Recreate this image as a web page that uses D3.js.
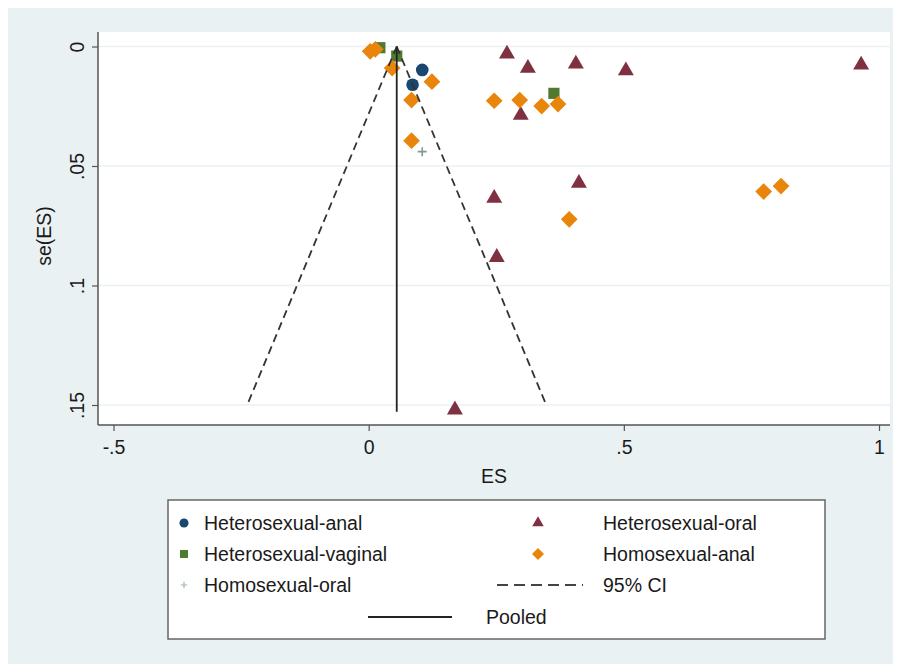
<!DOCTYPE html>
<html>
<head>
<meta charset="utf-8">
<script src="https://cdn.jsdelivr.net/npm/d3@7"></script>
<style>
  body { margin: 0; background: #fff; }
  svg { display: block; font-family: "Liberation Sans", Arial, sans-serif; }
</style>
</head>
<body>
<script>
// effect size (ES) and its standard error
let heteroAnal = [
    {es: 0.105, se: 0.0098}, {es: 0.086, se: 0.0160}
];
let heteroOral = [
    {es: 0.271, se: 0.0031}, {es: 0.312, se: 0.0091}, {es: 0.406, se: 0.0073},
    {es: 0.504, se: 0.0101}, {es: 0.965, se: 0.0077}, {es: 0.298, se: 0.0287},
    {es: 0.412, se: 0.0572}, {es: 0.246, se: 0.0635}, {es: 0.251, se: 0.0882},
    {es: 0.169, se: 0.1520}
];
let heteroVaginal = [
    {es: 0.022, se: 0.0005}, {es: 0.055, se: 0.0040}, {es: 0.363, se: 0.0196}
];
let homoAnal = [
    {es: 0.003, se: 0.0020}, {es: 0.013, se: 0.0012}, {es: 0.046, se: 0.0090},
    {es: 0.124, se: 0.0147}, {es: 0.084, se: 0.0224}, {es: 0.084, se: 0.0394},
    {es: 0.246, se: 0.0227}, {es: 0.296, se: 0.0224}, {es: 0.339, se: 0.0249},
    {es: 0.371, se: 0.0241}, {es: 0.774, se: 0.0607}, {es: 0.808, se: 0.0584},
    {es: 0.393, se: 0.0723}
];
let homoOral = [
    {es: 0.105, se: 0.0440}
];

// pooled estimate and 95% CI limits
let pooledLine = [{es: 0.055, se: 0}, {es: 0.055, se: 0.1528}];
let ciLower = [{es: 0.055, se: 0}, {es: -0.239, se: 0.1505}];
let ciUpper = [{es: 0.055, se: 0}, {es: 0.349, se: 0.1505}];

let xTicks = [-0.5, 0, 0.5, 1],
    xTickLabels = ['-.5', '0', '.5', '1'];
let yTicks = [0, 0.05, 0.1, 0.15],
    yTickLabels = ['0', '.05', '.1', '.15'];

let legendLabels = ['Heterosexual-anal', 'Heterosexual-oral', 'Heterosexual-vaginal',
    'Homosexual-anal', 'Homosexual-oral', '95% CI', 'Pooled'];

let width = 903, height = 664;
let plot = {left: 98, top: 32, right: 890, bottom: 425};

let svg = d3.select('body').append('svg')
    .attr('width', width)
    .attr('height', height);

// graph region
svg.append('rect')
    .attr('x', 8).attr('y', 8)
    .attr('width', 885).attr('height', height - 8)
    .attr('fill', '#eaf1f3');
svg.append('rect')
    .attr('x', plot.left).attr('y', plot.top)
    .attr('width', plot.right - plot.left).attr('height', plot.bottom - plot.top)
    .attr('fill', '#fff');

let xScale = d3.scaleLinear().domain([-0.5, 1]).range([113.5, 879]);
let yScale = d3.scaleLinear().domain([0, 0.15]).range([46.5, 405]);

// grid
svg.append('g').selectAll('line')
    .data(yTicks)
    .join('line')
    .attr('x1', plot.left).attr('x2', plot.right)
    .attr('y1', d => yScale(d)).attr('y2', d => yScale(d))
    .attr('stroke', '#eaf2f3')
    .attr('stroke-width', 1.5);

// axes
let fmtX = d => xTickLabels[xTicks.indexOf(d)],
    fmtY = d => yTickLabels[yTicks.indexOf(d)];

let xAxis = svg.append('g')
    .attr('transform', `translate(0,${plot.bottom})`)
    .call(d3.axisBottom(xScale).tickValues(xTicks).tickFormat(fmtX).tickSize(6).tickSizeOuter(0));
let yAxis = svg.append('g')
    .attr('transform', `translate(${plot.left},0)`)
    .call(d3.axisLeft(yScale).tickValues(yTicks).tickFormat(fmtY).tickSize(6).tickSizeOuter(0));

[xAxis, yAxis].forEach(a => {
    a.select('.domain').remove();
    a.selectAll('.tick line').attr('stroke', '#555').attr('stroke-width', 1.2);
    a.selectAll('.tick text').attr('fill', '#1a1a1a').style('font-size', '19.5px')
        .style('font-family', '"Liberation Sans", Arial, sans-serif');
});
xAxis.selectAll('.tick text').attr('y', 15);
yAxis.selectAll('.tick text')
    .attr('x', null).attr('dy', null)
    .attr('text-anchor', 'middle')
    .attr('transform', 'translate(-21,0) rotate(-90)')
    .attr('dy', '0.35em');

svg.append('line')
    .attr('x1', plot.left).attr('x2', plot.right)
    .attr('y1', plot.bottom).attr('y2', plot.bottom)
    .attr('stroke', '#555').attr('stroke-width', 1.5);
svg.append('line')
    .attr('x1', plot.left).attr('x2', plot.left)
    .attr('y1', plot.top).attr('y2', plot.bottom)
    .attr('stroke', '#555').attr('stroke-width', 1.5);

svg.append('text')
    .attr('x', (plot.left + plot.right) / 2).attr('y', 483)
    .attr('text-anchor', 'middle')
    .style('font-size', '19.5px').attr('fill', '#1a1a1a')
    .text('ES');
svg.append('text')
    .attr('transform', 'translate(51,236) rotate(-90)')
    .attr('text-anchor', 'middle')
    .style('font-size', '19.5px').attr('fill', '#1a1a1a')
    .text('se(ES)');

// markers
let sym = {
    circle: d3.symbol().type(d3.symbolCircle).size(125),
    triangle: d3.symbol().type(d3.symbolTriangle).size(110),
    square: d3.symbol().type(d3.symbolSquare).size(125),
    diamond: d3.symbol().type(d3.symbolSquare).size(140),
};
let plusPath = 'M-4.5,0H4.5M0,-4.5V4.5';

let series = [
    {data: heteroAnal, shape: 'circle', color: '#1a476f'},
    {data: heteroOral, shape: 'triangle', color: '#7f3041'},
    {data: heteroVaginal, shape: 'square', color: '#4f7a2f'},
    {data: homoAnal, shape: 'diamond', color: '#e8850a'},
    {data: homoOral, shape: 'plus', color: '#7e9b92'},
];

function drawMarker(g, shape, color){
    if(shape === 'plus'){
        g.append('path').attr('d', plusPath).attr('stroke', color).attr('stroke-width', 1.6).attr('fill', 'none');
    } else {
        g.append('path').attr('d', sym[shape]())
            .attr('fill', color)
            .attr('transform', shape === 'diamond' ? 'rotate(45)' : null);
    }
}

series.forEach(s => {
    s.data.forEach(d => {
        let g = svg.append('g').attr('transform', `translate(${xScale(d.es)},${yScale(d.se)})`);
        drawMarker(g, s.shape, s.color);
    });
});

// funnel lines
let line = d3.line().x(d => xScale(d.es)).y(d => yScale(d.se));
[ciLower, ciUpper].forEach(l => {
    svg.append('path').attr('d', line(l))
        .attr('fill', 'none').attr('stroke', '#333').attr('stroke-width', 1.8)
        .attr('stroke-dasharray', '8,5');
});
svg.append('path').attr('d', line(pooledLine))
    .attr('fill', 'none').attr('stroke', '#222').attr('stroke-width', 1.8);

// legend
let legend = svg.append('g');
legend.append('rect')
    .attr('x', 168).attr('y', 500).attr('width', 657).attr('height', 139)
    .attr('fill', '#fff').attr('stroke', '#666').attr('stroke-width', 1.5);

let rowY = [523, 554, 585, 617];
let items = [
    {label: legendLabels[0], shape: 'circle', color: '#1a476f', col: 0, row: 0},
    {label: legendLabels[1], shape: 'triangle', color: '#7f3041', col: 1, row: 0},
    {label: legendLabels[2], shape: 'square', color: '#4f7a2f', col: 0, row: 1},
    {label: legendLabels[3], shape: 'diamond', color: '#e8850a', col: 1, row: 1},
    {label: legendLabels[4], shape: 'plus', color: '#9fb3ad', col: 0, row: 2},
    {label: legendLabels[5], shape: 'dash', color: '#444', col: 1, row: 2},
];
let symX = [184, 538], textX = [204, 603];

items.forEach(it => {
    let y = rowY[it.row];
    if(it.shape === 'dash'){
        legend.append('line')
            .attr('x1', 497).attr('x2', 583).attr('y1', y).attr('y2', y)
            .attr('stroke', it.color).attr('stroke-width', 1.8).attr('stroke-dasharray', '11,6');
    } else {
        let g = legend.append('g').attr('transform', `translate(${symX[it.col]},${y}) scale(0.72)`);
        drawMarker(g, it.shape, it.color);
    }
    legend.append('text')
        .attr('x', textX[it.col]).attr('y', y).attr('dy', '0.35em')
        .style('font-size', '19.5px').attr('fill', '#1a1a1a')
        .text(it.label);
});
legend.append('line')
    .attr('x1', 368).attr('x2', 452).attr('y1', rowY[3]).attr('y2', rowY[3])
    .attr('stroke', '#222').attr('stroke-width', 1.8);
legend.append('text')
    .attr('x', 486).attr('y', rowY[3]).attr('dy', '0.35em')
    .style('font-size', '19.5px').attr('fill', '#1a1a1a')
    .text(legendLabels[6]);
</script>
</body>
</html>
